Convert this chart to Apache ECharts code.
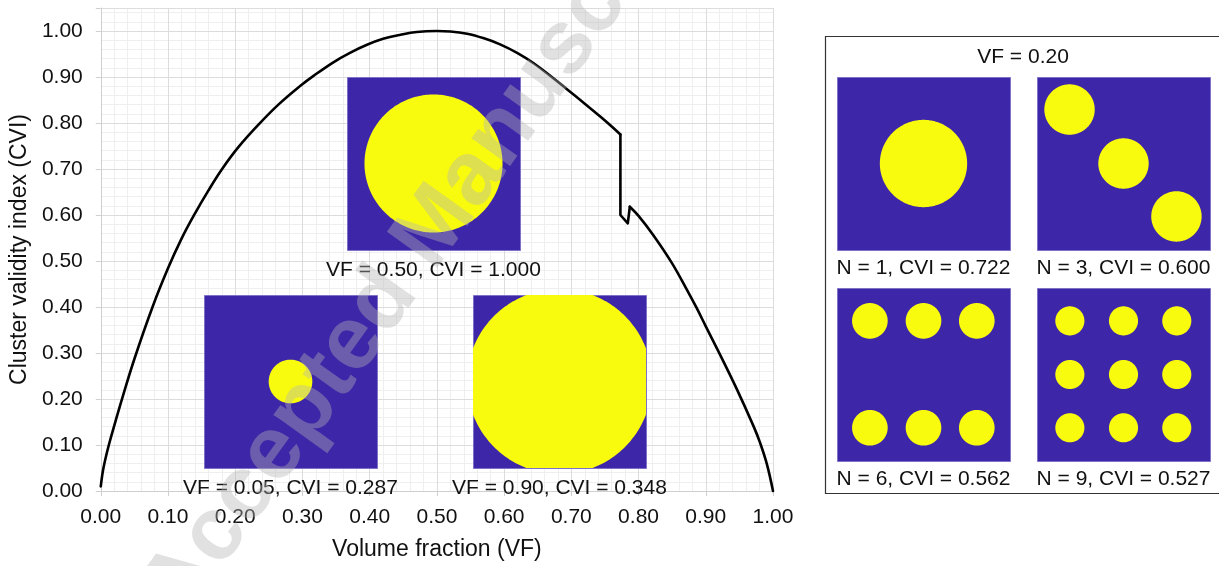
<!DOCTYPE html>
<html><head><meta charset="utf-8">
<script src="https://cdn.jsdelivr.net/npm/echarts@6/dist/echarts.min.js"></script>
<style>html,body{margin:0;padding:0;background:#fff}#c{width:1219px;height:566px}</style>
</head><body><div id="c"></div>
<script>
// ---- data ----
const vf  = [0, 0.004, 0.012, 0.022, 0.032, 0.05, 0.077, 0.10, 0.12, 0.14, 0.16, 0.18, 0.205, 0.235, 0.265, 0.297, 0.317, 0.346, 0.37, 0.396, 0.42, 0.446, 0.47, 0.50, 0.52, 0.545, 0.57, 0.594, 0.62, 0.644, 0.67, 0.693, 0.72, 0.743, 0.758, 0.773, 0.773, 0.784, 0.787, 0.80, 0.822, 0.849, 0.871, 0.886, 0.90, 0.921, 0.946, 0.971, 0.981, 0.991, 1.0];
const cvi = [0.01, 0.05, 0.10, 0.152, 0.202, 0.287, 0.40, 0.484, 0.548, 0.603, 0.653, 0.699, 0.748, 0.797, 0.841, 0.881, 0.903, 0.932, 0.952, 0.970, 0.983, 0.992, 0.998, 1.0, 0.999, 0.994, 0.984, 0.971, 0.952, 0.930, 0.901, 0.874, 0.842, 0.814, 0.795, 0.775, 0.60, 0.582, 0.618, 0.598, 0.556, 0.497, 0.44, 0.399, 0.358, 0.297, 0.222, 0.141, 0.104, 0.058, 0.0];
const insetVF  = [0.50, 0.05, 0.90];
const insetCVI = [1.000, 0.287, 0.348];
const panelVF  = 0.20;
const panelN   = [1, 3, 6, 9];
const panelCVI = [0.722, 0.600, 0.562, 0.527];
const xTitle = 'Volume fraction (VF)';
const yTitle = 'Cluster validity index (CVI)';
const watermark = 'Accepted Manuscript';

// ---- drawing ----
const FONT = '"Liberation Sans", Arial, Helvetica, sans-serif';
const BLUE = '#3e26a8', YEL = '#f9fb0e', EDGE = '#7d72c8';
const S = 173;
const insetPos = [[347, 77], [204, 295], [473, 295]];
const panelPos = [[837, 77], [1037, 77], [837, 288], [1037, 288]];
const centersFor = {
  1: [[0.5, 0.5]],
  3: [[0.188, 0.188], [0.5, 0.5], [0.806, 0.806]],
  6: [[0.19, 0.19], [0.5, 0.19], [0.808, 0.19], [0.19, 0.808], [0.5, 0.808], [0.808, 0.808]],
  9: [[0.19, 0.19], [0.5, 0.19], [0.808, 0.19], [0.19, 0.5], [0.5, 0.5], [0.808, 0.5], [0.19, 0.808], [0.5, 0.808], [0.808, 0.808]]
};
function clippedCircle(cx, cy, r, x0, y0) {
  const pts = [];
  for (let i = 0; i < 240; i++) {
    const a = i / 240 * Math.PI * 2;
    let px = cx + r * Math.cos(a), py = cy + r * Math.sin(a);
    px = Math.min(Math.max(px, x0), x0 + S);
    py = Math.min(Math.max(py, y0), y0 + S);
    pts.push([px, py]);
  }
  return pts;
}
function image(x0, y0, frac, n) {
  const els = [{type: 'rect', shape: {x: x0 + 0.5, y: y0 + 0.5, width: S, height: S}, style: {fill: BLUE, stroke: EDGE, lineWidth: 1}, z: 10}];
  const r = S * Math.sqrt(frac / (n * Math.PI));
  centersFor[n].forEach(c => {
    els.push({type: 'polygon', shape: {points: clippedCircle(x0 + c[0] * S, y0 + c[1] * S, r, x0, y0)}, style: {fill: YEL}, z: 11});
  });
  return els;
}
function label(x, y, text) {
  return {type: 'text', x: x, y: y, z: 12,
    style: {text: text, font: '21px ' + FONT, fill: '#111', align: 'center', verticalAlign: 'middle', textAlign: 'center', textVerticalAlign: 'middle'}};
}
const graphics = [];
insetVF.forEach((v, i) => {
  const p = insetPos[i];
  graphics.push(...image(p[0], p[1], v, 1));
  graphics.push(label(p[0] + S / 2, p[1] + S + 20, 'VF = ' + v.toFixed(2) + ', CVI = ' + insetCVI[i].toFixed(3)));
});
graphics.push({type: 'rect', shape: {x: 825.5, y: 36.5, width: 420, height: 457}, style: {fill: '#fff', stroke: '#333', lineWidth: 1.2}, z: 9});
graphics.push(label(1023, 57, 'VF = ' + panelVF.toFixed(2)));
panelN.forEach((n, i) => {
  const p = panelPos[i];
  graphics.push(...image(p[0], p[1], panelVF, n));
  graphics.push(label(p[0] + S / 2, p[1] + S + 18, 'N = ' + n + ', CVI = ' + panelCVI[i].toFixed(3)));
});
graphics.push({type: 'text', x: 428, y: 238, rotation: 0.949, z: 50,
  style: {text: watermark, font: 'bold 90px ' + FONT, fill: 'rgba(181,181,181,0.4)', align: 'center', verticalAlign: 'middle', textAlign: 'center', textVerticalAlign: 'middle'}});

const MAJ = '#dcdcdc', MIN = '#efefef', AX = '#cfcfcf';
const minorColors = ['rgba(0,0,0,0)', MIN, MIN, MIN, MIN];

// split the curve where it drops vertically so the smooth parts stay smooth
const pts = vf.map((x, i) => [x, cvi[i]]);
const jumpStart = vf.findIndex((x, i) => i > 0 && x === vf[i - 1]) - 1;  // top of the vertical drop
const jumpEnd = jumpStart + 3;                                            // local peak after the notch
const lineStyle = {color: '#000', width: 2.6, join: 'round', cap: 'round'};
const mk = (d, smooth) => ({type: 'line', xAxisIndex: 0, yAxisIndex: 0, data: d, symbol: 'none',
  smooth: smooth ? 0.4 : false, clip: false, lineStyle: lineStyle, z: 5, silent: true});

const chart = echarts.init(document.getElementById('c'), null, {renderer: 'canvas'});
chart.setOption({
  animation: false,
  backgroundColor: '#fff',
  textStyle: {fontFamily: FONT},
  grid: {left: 100, right: 446, top: 8, bottom: 74, containLabel: false},
  xAxis: [
    {type: 'value', min: 0, max: 1, interval: 0.1,
     name: xTitle, nameLocation: 'middle', nameGap: 47,
     nameTextStyle: {fontSize: 23, color: '#111', fontFamily: FONT},
     axisLine: {show: true, lineStyle: {color: AX, width: 1}},
     axisTick: {show: true, length: 5, lineStyle: {color: AX}},
     axisLabel: {fontSize: 21, color: '#111', margin: 16, formatter: v => v.toFixed(2), fontFamily: FONT},
     splitLine: {show: true, lineStyle: {color: MAJ, width: 1}}, z: 3},
    {type: 'value', min: 0, max: 1, interval: 0.02, position: 'bottom',
     axisLine: {show: false}, axisTick: {show: false}, axisLabel: {show: false},
     splitLine: {show: true, lineStyle: {color: minorColors, width: 1}}, z: 1}
  ],
  yAxis: [
    {type: 'value', min: 0, max: 1.05, interval: 0.1,
     name: yTitle, nameLocation: 'middle', nameGap: 66,
     nameTextStyle: {fontSize: 23, color: '#111', fontFamily: FONT},
     axisLine: {show: true, lineStyle: {color: AX, width: 1}},
     axisTick: {show: true, length: 5, lineStyle: {color: AX}},
     axisLabel: {fontSize: 21, color: '#111', margin: 18, fontFamily: FONT,
                 formatter: v => (v > 1.001 ? '' : v.toFixed(2))},
     splitLine: {show: true, lineStyle: {color: MAJ, width: 1}}, z: 3},
    {type: 'value', min: 0, max: 1.05, interval: 0.02, position: 'left',
     axisLine: {show: false}, axisTick: {show: false}, axisLabel: {show: false},
     splitLine: {show: true, lineStyle: {color: minorColors, width: 1}}, z: 1}
  ],
  series: [
    mk(pts.slice(0, jumpStart + 1), true),
    mk(pts.slice(jumpStart, jumpEnd + 1), false),
    mk(pts.slice(jumpEnd), true)
  ],
  graphic: {elements: graphics}
});
</script></body></html>
